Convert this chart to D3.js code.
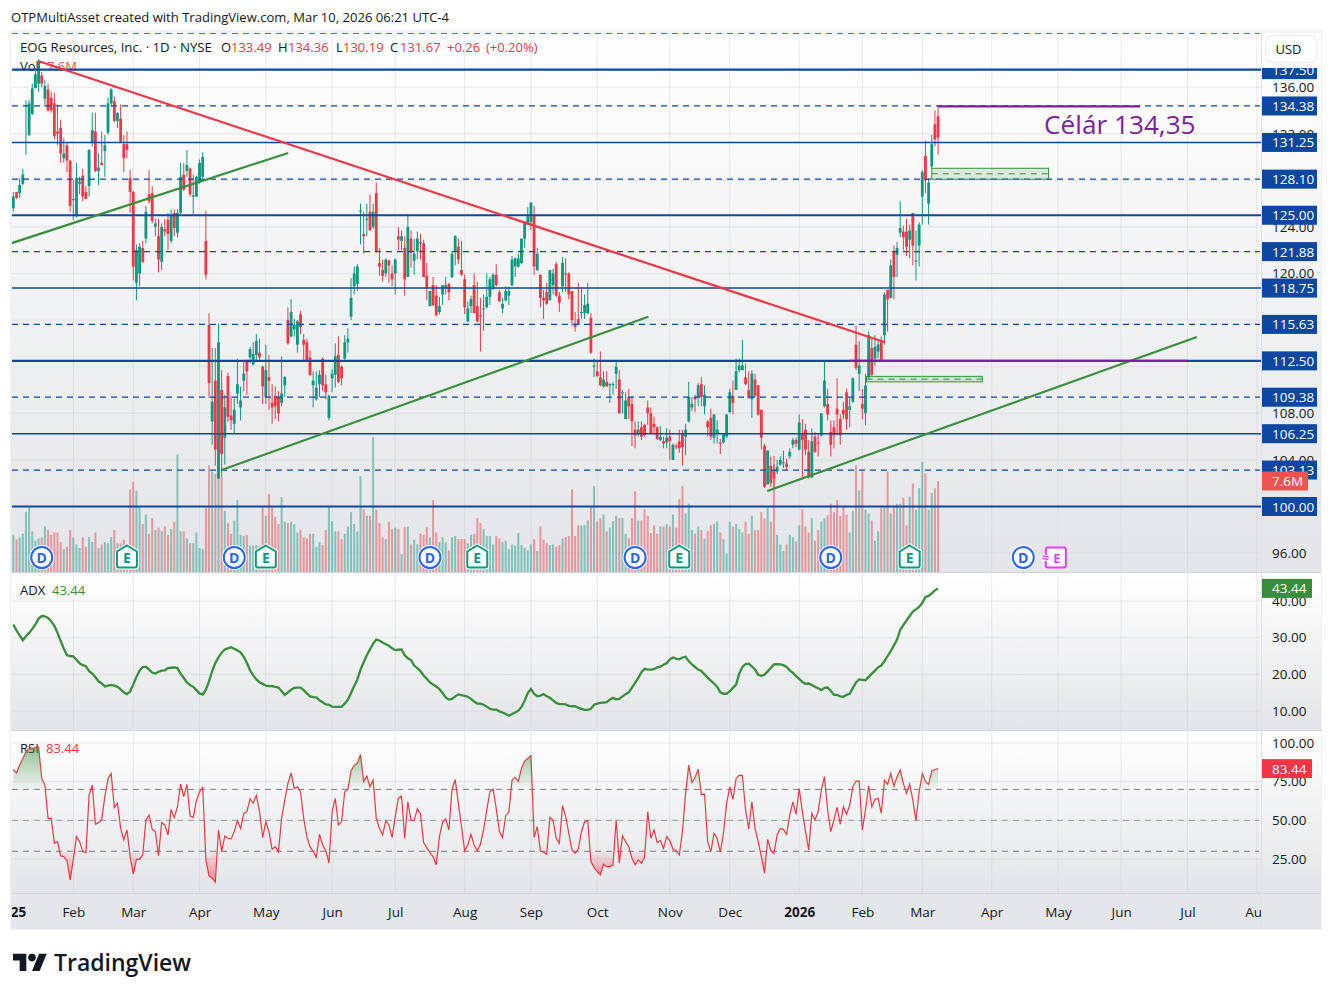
<!DOCTYPE html>
<html>
<head>
<meta charset="utf-8">
<title>EOG Resources chart</title>
<script src="https://d3js.org/d3.v7.min.js"></script>
<style>
	html, body { margin: 0; padding: 0; background: #fff; }
	svg { display: block; }
	text { font-family: "Open Sans", "Noto Sans", sans-serif; }
</style>
</head>
<body>
<script>
	// daily bars, Jan 3 2025 - Mar 9 2026 (one line per month)
	const opens = [
		125.6,127,126.9,127.7,131.2,131.9,133.7,135.9,136.3,137,135,135.8,135.1,134.6,132.2,132.5,129.9,131,129.7,
		126.3,124.9,127.7,128.4,127,127.5,131.2,132.2,128.8,129.5,130.5,132.1,134.6,134.8,133.1,133.3,131.1,131.1,128.2,
		127,119.2,120,122.2,123,126.8,126.9,124,123.2,121,123.8,124.6,122.8,125.2,123.5,125.2,128.5,128.8,129,126.6,126.6,
		127.8,128.3,122.8,115.6,107.3,110.8,102.4,110,105.9,111.2,107.8,107.1,109.7,108.5,110.8,112.5,112.8,112.2,113,113.2,112,
		109.4,111.1,108.9,109.5,109.4,108.9,110.4,116,114.6,115.2,113.9,116.5,114.3,114.1,112.8,110.4,109.2,110.5,112.7,110.5,107.6,
		111,111.3,113,112,112.7,114.1,116.3,118.9,119.1,125.3,123.4,124.6,125.3,124,126.9,120.9,120.3,120,121.1,120,
		120,123.2,122.8,122.2,119.7,123,121.1,121.9,122.7,122.6,119.8,117.2,119,118.1,116.7,118.2,118.8,119.1,119.7,121.9,122.3,120.3,
		119.5,115.9,117.2,119,117.2,116.4,117,117.1,118,118.7,119.9,118.4,117,117.7,118.1,119,120.6,120.6,120.9,123,124.2,
		124.4,125,120.3,119.9,117.9,118.4,117.7,119,120.8,118.1,118.9,120,120,118.5,115.7,116.1,116.6,116.6,116.6,116.2,112,
		111.6,111.1,110.3,110.7,110.4,110.4,111.4,110.9,109.7,107.5,109.4,108.8,106.6,106.2,106.8,107,108.5,108,107.1,106.8,105.7,105.6,105.5,
		106,104,105.2,105.6,106.2,106,107.3,108.5,109.4,109.4,110.5,108.6,107.3,107.6,105.9,106.3,105.5,105.5,106,
		108.1,109.5,110,111.7,111.7,111.1,110,109.2,110.9,110.4,108.3,105.2,101.9,103.5,103.1,103,103.6,103.8,103.7,104.3,105.3,105.7,
		104.9,106.3,106.6,104.7,102.5,106,105.5,106.1,108.6,108.8,106.4,106.8,108.4,107.5,108.3,109.8,108.3,109,113.9,111.4,
		108.8,108,111.1,113.6,112.7,113.3,114.1,114.7,118.6,117.9,121.9,121.6,123.5,123.6,123.6,122.9,125.2,121.1,122.4,
		126.6,130.1,126,129.2,132.8,133.49
	];
	const highs = [
		127,127,128.2,129,134.9,134.9,136.3,137.4,138.4,137.3,136.6,136.3,135.6,135.5,134.5,133.2,131.6,131.3,129.7,
		128,129.5,128.3,129,127.5,130.7,133.8,133.8,130.3,132.2,131.9,135.1,135.9,135.2,133.8,134.5,131.9,132.2,128.9,
		127.1,122.5,122.6,122.8,125.8,128.9,127.5,124.7,124.7,124.3,124.7,125.2,125.5,125.5,125.5,129.5,129.5,130.6,129.1,128.5,128.4,
		129.8,130.4,125.4,116.6,113.6,113.6,115.7,111.7,109.6,111.5,109.5,109.3,112.7,110.3,112.6,112.6,113.7,114.1,114.8,114.4,112.1,
		113.9,113,110.5,110.3,109.9,112.9,111.2,117.1,117.8,116.1,116,116.8,114.8,114.4,113.4,111.6,111.6,111.7,112.8,111.3,109.6,
		111.8,114,114.6,112.1,114.7,115.3,119.6,120.6,120.8,126,125.3,126,126.8,126,127.8,122.2,121.2,121.3,121.2,120.7,
		121.3,124,123.7,123.2,125.1,123.7,123,123.6,123.4,122.9,120.9,118.5,119.7,119,118,119,119.7,119.2,121.9,123.3,123,122.8,
		119.9,117.6,118.1,120,119.3,117.9,118.2,120,119.7,120,120.8,118.6,117.9,118.9,118.9,121.5,121.4,121.7,123,124.5,125.7,
		126.1,125.8,122.2,119.9,118.6,119.2,120.3,120.4,121,118.4,121.4,121.3,120.1,118.5,116.7,119.2,118.7,118.2,119.2,116.6,112.7,
		112.4,113.3,111.6,111.6,110.6,110.7,112.4,111.7,110,109.8,110.1,109.5,107.3,107.3,107.3,107.1,109.1,108.5,107.7,106.9,106.9,106,106.7,
		106.6,105.4,105.4,106.6,106.6,107.1,110.7,109.4,109.6,110.6,111.1,110.4,107.4,108.4,107.9,107.4,105.8,106.3,107.9,
		110.1,110.8,112.7,112.7,114.3,112.3,111.6,111.7,111.4,110.4,108.3,105.4,104.8,104.3,103.6,104,104.3,104.8,104.1,105,105.9,105.9,
		107.9,107.5,107.1,105.7,106.7,106.4,106.3,108,112.5,110.1,107.4,107.4,111,107.9,109,110.1,109.3,111.1,115.5,114.2,
		110.1,111.4,115,114.4,114.7,114.2,114.6,118.4,118.6,121.2,122.4,122.7,126.2,124.1,124.7,124.2,125.2,123.7,124.4,
		128.9,131.4,128.2,131.9,134,134.36
	];
	const lows = [
		125.3,126.4,126.5,127.6,130.2,131.8,133.6,135.9,135.6,136,134.3,133.9,133.8,131.5,131,129.5,129.5,128.7,125.3,
		124.6,124.8,126.8,126.2,126.4,126.6,130.9,128.7,127.6,129.3,128.3,131.9,134.3,133,132.5,131.2,128.7,129.9,125.2,
		119.4,117.7,118.9,120.9,122.6,126,124.3,123.2,120.1,120.3,123.2,122,122.6,123.2,123.1,125.1,127.1,128.3,126.6,125.1,126.6,
		127.7,128.2,119.5,109.3,105.3,103.5,102.4,102.5,103.6,107.3,106.6,106.3,108.8,107.4,109.9,109.6,112.3,112.1,112.5,112.4,108.8,
		108.8,108.3,107.1,107.5,107.3,108.6,109.4,113.9,114.5,114.6,113.2,114.8,112.5,112.4,111.2,108.5,109.1,109.4,109.9,109.2,107.4,
		109.8,110.2,110.6,110.4,112.6,113.2,116,118.2,118.5,122.5,121.7,123.2,123.7,123.8,121.8,119.8,119.3,119.7,119.2,118.9,
		118.2,122,122,118.1,119.7,120.5,119.9,121.2,121.2,119.7,117.7,117.2,117.2,116.4,116.5,117.3,118.2,117.7,119.6,120.7,120.8,119.8,
		116.5,115.8,116.6,116.6,115.8,113.3,115.1,117,117.3,118.6,118.9,117.6,116.6,117.6,117.3,118.9,119.7,120.5,120.8,122.2,124.2,
		123.7,119.9,120.2,117.1,116.1,117.3,117.7,118.2,118,116.7,118.4,118.4,117.8,115.5,115,115.6,116.1,116.1,116.5,113.1,111.1,
		111.1,110.3,110.2,110.3,108.9,109.6,110.1,108,108,107.5,107.5,105.2,105,106,105.7,106,107,106.3,106.2,105.7,105.6,105,105,
		104,104,104.9,104.6,103.5,104.4,107.2,108.2,108.1,108.6,108.6,107.9,106,105.7,105.4,105.4,104.5,105.4,105.9,
		108,107.9,110,111.5,111.7,110.4,109.3,107.6,109.4,107.8,104.9,101.6,101.9,101.7,101.6,102.8,103.5,103.3,103.1,104.1,105,105.1,
		104.8,102.3,104.4,102.4,102.4,104.6,104.3,106,108.5,107.4,104.3,105,106.1,105.3,107.5,106.6,106.8,108.9,111.7,109.9,
		107.5,107,110.9,111.2,112.1,112.7,112.6,113.9,115,117.9,117.8,119.7,123.1,122,121.5,121.3,120.7,119.4,120.6,
		124.2,126.9,124.2,129,130.9,130.19
	];
	const closes = [
		126.6,126.5,127.6,128.5,131.3,134.6,135.9,137.1,138.2,136.3,136.1,134,134,131.8,132,130.3,130.3,129.7,125.8,
		126.4,128.2,127.9,126.6,126.4,130.6,132.3,128.8,129.1,129.3,131,134.6,135.8,133.1,133.8,131.3,129.9,130.6,127,
		120.6,122,122.3,121,125.3,126.2,124.5,124.3,121.2,124,123.6,123.4,125,123.9,125.2,128.3,127.2,129.3,126.8,126.7,128.3,
		129.5,130,119.9,110.6,109,104.9,114.1,104.5,108.5,107.7,107.4,108.3,110.5,109.1,111.4,111.6,113.5,113.1,114.2,112.8,110.3,
		111.7,110.8,108.5,108.6,108,109.7,111.1,114,116.7,115.6,115.9,115.4,113.9,112.5,111.3,110.8,110.2,111.3,110.4,109.8,109.5,
		111.4,112.9,110.7,111,114.1,114.4,117.9,120,120.6,125.4,123.2,124.7,123.7,125.3,121.9,120.6,119.8,121.2,120.7,119.5,
		121.2,122.9,123.2,119.5,124,121.8,121.7,123,122.6,119.7,118.8,118.5,117.3,116.4,117.2,119,119,118.4,121.7,123.2,121.2,119.9,
		117.1,117,117.8,116.6,115.9,116.3,117,118,119.5,119.9,119,117.6,117.4,118.5,118.5,121.2,121.3,121.3,123,124.4,124.9,
		126.1,120.6,121.7,117.9,117.7,117.4,120.3,120,118.1,117.5,120.9,119.9,118.2,116,115.4,115.6,116.7,117.3,117.4,113.2,112.1,
		111.2,110.4,110.9,110.3,110.5,110.5,112,108,109.8,109.1,108.6,107.3,106.1,106.6,106,106.1,108,106.3,106.8,105.8,106,105.4,105.9,
		105.6,105.3,105.1,105,105.1,106.6,109.4,108.8,109.2,110.4,109.4,109.6,106.8,106,107.9,106.6,105.4,106.2,107.9,
		109.8,108.9,111.6,112.1,112.1,110.5,109.3,111.4,109.5,107.9,105.9,101.7,104.8,102,102.4,103.4,104,103.8,103.4,104.7,105.7,105.4,
		107.2,105.7,104.9,102.5,105.6,104.7,105.4,108,110.8,107.9,105.3,106.1,107.9,106.1,107.9,107.5,108.6,111,111.9,112.1,
		108.4,110.4,114.7,111.3,113.7,113.9,112.6,118.2,117.8,120.7,119.7,122.2,123.9,123.1,122.3,123.7,122.4,121.1,124.2,
		128.7,128,127.8,131.1,131.5,131.67
	];
	// volume in millions
	const volumes = [
		3.1,2.75,2.9,3.2,5,5.4,3.4,2.6,2.8,2.9,3.8,3.5,3.1,3.3,3.3,2.5,1.9,2.1,3.5,
		2.9,2.3,2,2.9,2.1,2.9,2.5,3.3,2,2.3,2.5,2.4,2.9,3.5,2.4,2.4,2.7,2.25,6.9,
		7.5,6.8,5.4,4,4.8,3.2,4.5,3.5,3.7,3.4,3.8,3.1,3.6,4.2,9.8,3.4,3.4,2.8,2.4,2.4,3.3,
		2,1.9,5.4,8.9,8.4,8.2,8.8,7.9,5.1,4.1,3.2,4.3,6,3.1,3,3.1,2.2,2.2,2.25,2.2,5.4,
		4.7,6.5,5.4,4.6,4,6.25,4.2,4.1,4.2,4,3.3,3.5,2.9,2.8,3.2,3.2,2.1,2.5,2.25,3.5,5.4,
		4.25,3.4,3.4,2.75,3.2,3.8,5,4,3.4,8,5.25,4.7,4.7,11.25,5.2,4.1,2.9,2.75,4.2,3.6,
		3.7,3.6,1.5,3.75,3.8,2.3,2.7,2.3,3.2,3.1,3.75,2.9,6,3.3,2.5,2.9,2.5,1.8,2.9,3,2.75,2.75,
		2.75,2.4,3.1,3.2,4.5,4.1,3.6,3,3,2.3,3,2.8,2.5,2.6,1.9,2.3,2.2,3.25,2.25,2,1.8,
		2.3,2.75,1.75,3.8,2.7,2.4,2.25,2.3,2.1,2.25,2.8,2.9,3,6.9,3,3.9,3.9,3.9,4.3,5.4,7.2,
		4.2,4.5,4.8,3.4,3.7,4.25,4.7,4.5,4.5,3.2,2.8,4.5,6.75,4.3,4.3,5.25,4.7,3.25,3.9,3.2,3.8,3.8,4,
		3.8,4.8,3.7,6.1,7.2,4.9,5.7,3.5,3.2,3.8,3.5,2.8,3.4,3.9,4,4.2,3.3,2.75,1.55,
		4.2,3.8,4,3.6,3.3,4.2,3.2,4.7,3.5,3.5,5,4.5,5.4,4.2,9.7,3.1,2.3,1.75,2.3,3.1,2.9,2.55,
		3.9,5.25,3.8,3.3,4.5,2.6,3.5,4.2,4.5,4.75,5.7,5,6,4.7,5.5,4.8,3.3,5.1,8.9,6.8,
		8.4,5.2,4.9,4.3,2.6,3.4,5.4,5.4,8.4,4.9,5.4,5.7,5.7,6.2,3.9,6.3,7.4,5.2,7,
		9.2,8.25,5.2,6.6,7,7.6
	];
	const adxValues = [
		33.6,32,30.6,29.3,30.4,31.3,32.4,33.6,35.2,35.9,35.8,35.4,34.5,33.2,31.3,29.1,27,25.2,25,
		24.9,24,23,22.5,22.2,20.9,20.2,19.2,18.1,17.5,16.7,16.9,17.1,16.9,16.6,15.9,15.1,14.6,15.3,
		17.2,19.3,21,22,22.1,21.3,20.5,20.2,20.7,21,21.1,21.7,21.8,21.9,21.7,20.2,19,17.8,17.1,16.6,15.7,
		14.8,14.5,15.8,18.1,20.9,23.1,24.6,25.9,26.8,27.1,27.4,27,26.5,26,24.8,23.1,21.1,19.7,18.6,17.8,17.4,
		16.9,16.8,16.8,16.6,16.4,15.4,14.4,15.1,15.8,16.3,16.4,16.4,15.7,14.8,14,13.8,13.7,12.9,12.4,11.8,11.7,
		11.2,11.1,11.1,11.1,12,13.1,14.9,16.8,18.6,21.3,23.3,25.2,26.8,28.4,29.5,29.2,28.7,28.2,27.8,27.1,
		26.6,26.7,26.8,25.2,24.4,23.9,22.4,21.7,20.9,19.7,18.8,17.8,17.2,16.7,16,14.9,13.7,13.1,13.3,14,14.5,14.3,
		14.1,13.9,13.3,12.6,12,12,11.7,11.2,10.6,10.4,10.4,9.9,9.6,9.2,8.7,9.2,9.6,10.1,11.1,12.8,14.9,
		16,14.7,14,14.2,14.6,14,13.6,12.9,12.2,11.9,11.9,11.8,11.4,11.3,11.3,10.9,10.6,10.3,10.3,10.6,11.7,
		12,12.2,12.3,12.4,13.1,13.6,13.2,13.3,14,14.6,15.1,16.4,17.7,19,20.6,21.5,21.3,21.3,21.4,21.9,22.1,22.6,23,
		24.1,24.6,24.3,24.1,24.6,24.8,23.6,22.7,22,21.3,20.9,20,19.1,18.3,17.5,16.6,15.1,14.7,14.7,
		15.4,16.3,17.2,20.2,22,22.8,22.9,22.2,21.3,19.9,19.6,19.9,20.8,21.7,22.7,22.8,22.7,22.5,22,21.1,20.4,19.5,
		18.8,17.9,17.4,17.5,17.1,16.6,16.2,15.7,16.3,16.4,15.5,14.4,14.4,14,13.9,14.4,14.7,16.3,17.8,18.6,
		18.5,18.4,19.3,20.2,21,21.9,22.4,23.6,25,26.3,27.9,29.5,32.1,33.4,34.7,35.9,37.1,37.7,38.4,
		39.5,41.1,41.4,42.1,42.9,43.44
	];
	const rsiValues = [
		82.9,80.7,85.7,90,94.3,96.4,96.4,97.1,97.5,77.1,72.8,51.3,51.3,35.2,36.2,27,26.5,24,11.5,
		24.4,39.5,36.2,29.8,29.1,66.3,72.8,47.6,48.5,50.6,65.3,77.1,80.3,58.4,61,44.8,37.3,43.8,26.5,
		15.2,24.8,24.8,27.6,50.2,53.4,44.2,42.7,27.2,48.5,47,40.5,57.1,51.9,58.8,73.4,65.3,73.2,52.8,51.9,62.7,
		68.5,71.3,24.4,14.1,12.6,10,43.8,29.8,39.9,38.4,38,42.7,49.8,44.8,54.5,55.6,64,61,66.1,55.6,39,
		49.1,42.7,31.3,33,29.6,51.3,63.1,73.9,80.7,70.6,71.7,68.5,51.3,39.5,33,29.8,26.1,41,34.1,30.4,22.3,
		55.6,64.2,47,49.1,68.5,70,82,85.7,86.8,92.6,75,78.6,71.7,76,51.3,44.8,40.5,49.8,47,39,
		52.4,64.2,65.7,38.4,62,50.2,49.8,57.5,54.1,35.6,32.4,29.1,26.5,21.2,39.5,48.7,50.9,43.8,70,76.4,61,45.9,
		30.2,34.1,41,34.1,30.2,34.7,43.8,56.7,68.5,70.2,57.7,42.7,39,53,55.2,76,77.7,75.2,83.5,88.3,90,
		91.9,39,45.9,30.2,29.4,28.1,51.9,50.2,38.4,35.2,59.5,52.4,41.6,30.9,28.7,31.3,42.7,49.1,49.8,23.3,19.5,
		16.9,14.7,21.6,20.1,20.1,21.2,50.2,22.3,40.1,36.2,33,25.5,21.2,24.4,22.3,25.9,55.6,38.4,43.8,35.6,36.9,31.9,39.5,
		36.9,31.3,30.4,27.6,42.7,67.4,85.7,74.5,77.7,83.1,66.8,67,36.2,29.8,41.6,38.4,29.4,41.6,61,
		71.7,63.5,77.1,79.2,79,56.7,44.4,62,44.8,36.2,26.5,15.8,37.7,30.4,28.7,40.5,44.8,44.2,41,53.4,62,53.9,
		70.6,55.6,42.7,30.9,54.5,50.2,55.6,69.6,78.2,56.7,42.7,50.2,58.4,47.6,58.8,53.9,59.9,71.7,75.4,75.4,
		43.8,56.7,72.4,58.8,63.5,64.2,54.5,76,73.4,80.3,72.1,78.2,82.5,73.9,67.4,73.4,63.1,49.8,68.5,
		80.3,75,73.2,82,82.9,83.44
	];

	// time axis
	const monthBars = [-1,19,38,59,80,101,121,143,164,185,208,227,249,269,288,310,331,351,372,394];
	const monthLabels = ['2025','Feb','Mar','Apr','May','Jun','Jul','Aug','Sep','Oct','Nov','Dec','2026','Feb','Mar','Apr','May','Jun','Jul','Aug'];

	// price axis and drawn levels
	const priceGrid = [136,132,128,124,120,116,112,108,104,100,96];
	const priceTicks = [136,132,124,120,108,104,96]; // the rest sit fully under level labels
	const thickLevels = [137.5,125,112.5,100];
	const thinLevels = [131.25,118.75,106.25];
	const dashedLevels = [140.63,134.38,128.1,121.88,115.63,109.38,103.13];
	const adxTicks = [40,30,20,10];
	const rsiTicks = [100,75,50,25];
	const rsiBands = [70,50,30];

	// dividend and earnings markers
	const dividendBars = [9,70,132,197,259,320];
	const earningsBars = [36,80,147,211,284];
	const nextEarningsBar = 330;

	// trend lines: [bar, price, bar, price]
	const redLines = [[7.9,138.24,276.2,114.1]];
	const greenLines = [[-0.6,122.6,87.1,130.35],[66,103.13,201.2,116.29],[238.9,101.33,375,114.55]];
	const purpleLines = [[293,134.35,357,134.35],[264.8,112.5,372,112.5]];
	const greenBoxes = [[291,129.03,328,128.09],[270.3,111.17,307,110.7]];

	const width = 1332, height = 997;
	const paneLeft = 12, paneRight = 1261, frameRight = 1321;
	const priceTop = 33, priceBottom = 572, adxTop = 573, adxBottom = 730, rsiTop = 731, rsiBottom = 893, frameBottom = 929;

	const upColor = '#089981', downColor = '#f23645', levelColor = '#0d47a1', textColor = '#131722';

	const x = d3.scaleLinear().domain([19, 288]).range([73.3, 922.3]);
	const y = d3.scaleLinear().domain([100, 136]).range([506.5, 87.1]);
	const yVol = d3.scaleLinear().domain([0, 7.6]).range([priceBottom, 481]);
	const yAdx = d3.scaleLinear().domain([10, 40]).range([711, 601]);
	const yRsi = d3.scaleLinear().domain([25, 100]).range([859, 743]);

	const bars = d3.range(opens.length);

	const svg = d3.select('body').append('svg').attr('width', width).attr('height', height);
	const defs = svg.append('defs');

	function paneGradient(id) {
		const g = defs.append('linearGradient').attr('id', id).attr('x1', 0).attr('x2', 0).attr('y1', 0).attr('y2', 1);
		g.append('stop').attr('offset', 0).attr('stop-color', '#ffffff');
		g.append('stop').attr('offset', 1).attr('stop-color', '#e4e5e8');
	}
	paneGradient('paneBg');

	function clip(id, x0, y0, x1, y1) {
		defs.append('clipPath').attr('id', id).append('rect').attr('x', x0).attr('y', y0).attr('width', x1 - x0).attr('height', y1 - y0);
	}
	clip('clipPrice', paneLeft, priceTop, paneRight, priceBottom);
	clip('clipAdx', paneLeft, adxTop, paneRight, adxBottom);
	clip('clipRsi', paneLeft, rsiTop, paneRight, rsiBottom);
	clip('clipTime', paneLeft, rsiBottom, paneRight, frameBottom);
	clip('clipOver', paneLeft, rsiTop, paneRight, yRsi(70));
	clip('clipUnder', paneLeft, yRsi(30), paneRight, rsiBottom);

	// frame and pane backgrounds
	svg.append('rect').attr('x', 10).attr('y', 30).attr('width', frameRight - 9).attr('height', frameBottom - 29).attr('fill', '#f0f1f4');
	[[priceTop, priceBottom], [adxTop, adxBottom], [rsiTop, rsiBottom]].forEach(p => {
		svg.append('rect').attr('x', 11).attr('y', p[0]).attr('width', frameRight - 11).attr('height', p[1] - p[0]).attr('fill', 'url(#paneBg)');
	});
	svg.append('rect').attr('x', 11).attr('y', rsiBottom).attr('width', frameRight - 11).attr('height', frameBottom - rsiBottom).attr('fill', '#e5e6e9');

	// grid
	function grid(id, scale, ticks, top, bottom) {
		const g = svg.append('g').attr('clip-path', 'url(#' + id + ')').attr('stroke', '#c8ccd6').attr('stroke-opacity', 0.42);
		g.selectAll('line.v').data(monthBars).enter().append('line').attr('class', 'v')
			.attr('x1', d => x(d)).attr('x2', d => x(d)).attr('y1', top).attr('y2', bottom);
		g.selectAll('line.h').data(ticks).enter().append('line').attr('class', 'h')
			.attr('x1', paneLeft).attr('x2', paneRight).attr('y1', d => scale(d)).attr('y2', d => scale(d));
	}
	grid('clipPrice', y, priceGrid, priceTop, priceBottom);
	grid('clipAdx', yAdx, adxTicks, adxTop, adxBottom);
	grid('clipRsi', yRsi, rsiTicks, rsiTop, rsiBottom);

	// separators
	[priceBottom, adxBottom, rsiBottom].forEach(v => {
		svg.append('line').attr('x1', 11).attr('x2', frameRight).attr('y1', v + 0.5).attr('y2', v + 0.5).attr('stroke', '#d1d4dc');
	});
	svg.append('line').attr('x1', paneRight + 0.5).attr('x2', paneRight + 0.5).attr('y1', priceTop).attr('y2', frameBottom).attr('stroke', '#dfe1e6');

	// volume
	const volG = svg.append('g').attr('clip-path', 'url(#clipPrice)');
	volG.selectAll('rect').data(bars).enter().append('rect')
		.attr('x', i => x(i) - 1).attr('width', 2)
		.attr('y', i => yVol(volumes[i])).attr('height', i => priceBottom - yVol(volumes[i]))
		.attr('fill', i => closes[i] >= opens[i] ? upColor : downColor)
		.attr('fill-opacity', 0.47);

	// legend
	function legend(parent, px, py, txt, color, size) {
		parent.append('text').attr('x', px).attr('y', py).attr('font-size', size || 13).attr('fill', color).text(txt);
	}
	const titleY = 52;
	legend(svg, 11, 22, 'OTPMultiAsset created with TradingView.com, Mar 10, 2026 06:21 UTC-4', textColor, 13.05);
	legend(svg, 20, titleY, 'EOG Resources, Inc. · 1D · NYSE', textColor, 13.2);
	[['O', 221], ['H', 278], ['L', 336], ['C', 390]].forEach(d => legend(svg, d[1], titleY, d[0], textColor));
	[['133.49', 231], ['134.36', 288], ['130.19', 343], ['131.67', 400], ['+0.26', 447], ['(+0.20%)', 486]].forEach(d => legend(svg, d[1], titleY, d[0], downColor));
	legend(svg, 20, 71, 'Vol', textColor);
	legend(svg, 47, 71, '7.6M', '#ef5350');
	legend(svg, 20, 595, 'ADX', textColor);
	legend(svg, 52, 595, '43.44', '#388e3c');
	legend(svg, 20, 753, 'RSI', textColor);
	legend(svg, 46, 753, '83.44', downColor);

	// candles
	const candleG = svg.append('g').attr('clip-path', 'url(#clipPrice)');
	candleG.selectAll('line').data(bars).enter().append('line')
		.attr('x1', i => x(i)).attr('x2', i => x(i))
		.attr('y1', i => y(highs[i])).attr('y2', i => y(lows[i]))
		.attr('stroke', i => closes[i] >= opens[i] ? upColor : downColor);
	candleG.selectAll('rect').data(bars).enter().append('rect')
		.attr('x', i => x(i) - 1.4).attr('width', 2.8)
		.attr('y', i => y(Math.max(opens[i], closes[i])))
		.attr('height', i => Math.max(1, Math.abs(y(opens[i]) - y(closes[i]))))
		.attr('fill', i => closes[i] >= opens[i] ? upColor : downColor);

	// levels
	const lineG = svg.append('g').attr('clip-path', 'url(#clipPrice)');
	function levels(data, w, dash, end) {
		lineG.selectAll(null).data(data).enter().append('line')
			.attr('x1', paneLeft).attr('x2', end).attr('y1', d => y(d)).attr('y2', d => y(d))
			.attr('stroke', levelColor).attr('stroke-width', w).attr('stroke-dasharray', dash);
	}
	levels(thickLevels, 2.2, null, paneRight);
	levels(thinLevels, 1.5, null, paneRight);
	levels(dashedLevels, 1.3, '6,5', paneRight - 1);

	// drawn boxes
	greenBoxes.forEach(b => {
		lineG.append('rect').attr('x', x(b[0])).attr('y', y(b[1])).attr('width', x(b[2]) - x(b[0])).attr('height', y(b[3]) - y(b[1]))
			.attr('fill', '#388e3c').attr('fill-opacity', 0.15).attr('stroke', '#388e3c').attr('stroke-width', 1);
		lineG.append('line').attr('x1', x(b[0])).attr('x2', x(b[2])).attr('y1', y((b[1] + b[3]) / 2)).attr('y2', y((b[1] + b[3]) / 2))
			.attr('stroke', '#388e3c').attr('stroke-width', 1).attr('stroke-dasharray', '6,5');
	});

	// trend lines
	function trend(data, color, w) {
		lineG.selectAll(null).data(data).enter().append('line')
			.attr('x1', d => x(d[0])).attr('y1', d => y(d[1])).attr('x2', d => x(d[2])).attr('y2', d => y(d[3]))
			.attr('stroke', color).attr('stroke-width', w);
	}
	trend(redLines, '#f23645', 2.2);
	trend(greenLines, '#388e3c', 2.2);
	trend(purpleLines, '#7b1fa2', 2.2);

	svg.append('text').attr('x', x(293) + 106).attr('y', y(134.35) + 28).attr('font-size', 26.2).attr('fill', '#7b1fa2').text('Célár 134,35');

	// dividend / earnings markers
	const markY = 557.5;
	const markG = svg.append('g').attr('clip-path', 'url(#clipPrice)').attr('text-anchor', 'middle');
	dividendBars.forEach(b => {
		const g = markG.append('g').attr('transform', 'translate(' + x(b) + ',' + markY + ')');
		g.append('circle').attr('r', 12.5).attr('fill', '#fff');
		g.append('circle').attr('r', 10.5).attr('fill', '#fff').attr('stroke', '#2962ff').attr('stroke-width', 2);
		g.append('text').attr('y', 5).attr('font-size', 14).attr('font-weight', 700).attr('fill', '#2962ff').text('D');
	});
	const housePath = 'M0,-11 L10,-5 L10,9 Q10,11 8,11 L-8,11 Q-10,11 -10,9 L-10,-5 Z';
	earningsBars.forEach(b => {
		const g = markG.append('g').attr('transform', 'translate(' + x(b) + ',' + (markY - 1) + ')');
		g.append('path').attr('d', housePath).attr('fill', '#fff').attr('stroke', '#fff').attr('stroke-width', 4);
		g.append('path').attr('d', housePath).attr('fill', '#fff').attr('stroke', upColor).attr('stroke-width', 2);
		g.append('text').attr('y', 6).attr('font-size', 14).attr('font-weight', 700).attr('fill', upColor).text('E');
	});
	const nextG = markG.append('g').attr('transform', 'translate(' + (x(nextEarningsBar) + 1) + ',' + markY + ')');
	nextG.append('rect').attr('x', -10).attr('y', -10).attr('width', 20).attr('height', 20).attr('rx', 2)
		.attr('fill', '#fff').attr('stroke', '#e040fb').attr('stroke-width', 2);
	nextG.append('text').attr('x', -10).attr('y', 4).attr('font-size', 12).attr('font-weight', 700).attr('fill', '#e040fb')
		.attr('stroke', '#fff').attr('stroke-width', 2).attr('paint-order', 'stroke').text('≈');
	nextG.append('text').attr('x', 1).attr('y', 5).attr('font-size', 13).attr('font-weight', 700).attr('fill', '#e040fb').text('E');

	// ADX
	const adxLine = d3.line().x(i => x(i)).y(i => yAdx(adxValues[i]));
	svg.append('path').datum(bars).attr('clip-path', 'url(#clipAdx)').attr('d', adxLine)
		.attr('fill', 'none').attr('stroke', '#388e3c').attr('stroke-width', 2.3);

	// RSI bands, zones and line
	function rsiGradient(id, level, edge, color, top, bottom) {
		const g = defs.append('linearGradient').attr('id', id).attr('gradientUnits', 'userSpaceOnUse')
			.attr('x1', 0).attr('x2', 0).attr('y1', yRsi(level)).attr('y2', yRsi(edge));
		g.append('stop').attr('offset', 0).attr('stop-color', color).attr('stop-opacity', top);
		g.append('stop').attr('offset', 1).attr('stop-color', color).attr('stop-opacity', bottom);
	}
	rsiGradient('rsiOver', 70, 100, '#388e3c', 0.02, 0.6);
	rsiGradient('rsiUnder', 30, 5, '#f23645', 0.02, 0.7);

	const rsiG = svg.append('g').attr('clip-path', 'url(#clipRsi)');
	rsiG.selectAll('line').data(rsiBands).enter().append('line')
		.attr('x1', paneLeft).attr('x2', paneRight - 2).attr('y1', d => yRsi(d)).attr('y2', d => yRsi(d))
		.attr('stroke', '#787b86').attr('stroke-opacity', d => d === 50 ? 0.7 : 1).attr('stroke-dasharray', '6,5');
	svg.append('path').datum(bars).attr('clip-path', 'url(#clipOver)')
		.attr('d', d3.area().x(i => x(i)).y0(yRsi(70)).y1(i => yRsi(rsiValues[i]))).attr('fill', 'url(#rsiOver)');
	svg.append('path').datum(bars).attr('clip-path', 'url(#clipUnder)')
		.attr('d', d3.area().x(i => x(i)).y0(yRsi(30)).y1(i => yRsi(rsiValues[i]))).attr('fill', 'url(#rsiUnder)');
	rsiG.append('path').datum(bars).attr('d', d3.line().x(i => x(i)).y(i => yRsi(rsiValues[i])))
		.attr('fill', 'none').attr('stroke', '#f23645').attr('stroke-width', 1.2);

	// right axes
	function rightAxis(scale, ticks) {
		const g = svg.append('g').attr('transform', 'translate(' + (paneRight + 1) + ',0)')
			.call(d3.axisRight(scale).tickValues(ticks).tickFormat(d3.format('.2f')).tickSize(0).tickPadding(10));
		g.select('.domain').remove();
		g.selectAll('text').attr('font-size', 13.5).attr('fill', textColor).attr('font-family', '"Open Sans", sans-serif');
	}
	rightAxis(y, priceTicks);
	rightAxis(yAdx, adxTicks);
	rightAxis(yRsi, rsiTicks);

	// price labels
	function priceLabel(cy, txt, color, w) {
		svg.append('rect').attr('x', paneRight + 1).attr('y', cy - 9.5).attr('width', w).attr('height', 19).attr('fill', color);
		svg.append('text').attr('x', paneRight + 11).attr('y', cy + 5).attr('font-size', 13.5).attr('font-weight', 500).attr('fill', '#fff').text(txt);
	}
	thickLevels.concat(thinLevels, dashedLevels.slice(1)).sort(d3.descending).forEach(d => {
		priceLabel(y(d), d3.format('.2f')(d), levelColor, 55);
	});
	priceLabel(yVol(7.6), '7.6M', '#ef5350', 46);
	priceLabel(yAdx(adxValues[adxValues.length - 1]), '43.44', '#388e3c', 50);
	priceLabel(yRsi(rsiValues[rsiValues.length - 1]), '83.44', '#f23645', 50);

	// currency button
	svg.append('rect').attr('x', paneRight + 1).attr('y', priceTop).attr('width', frameRight - paneRight - 1).attr('height', 35).attr('fill', '#fff');
	svg.append('rect').attr('x', 1265.5).attr('y', 35.5).attr('width', 51).attr('height', 27).attr('rx', 6).attr('fill', '#fff').attr('stroke', '#eef0f4').attr('stroke-width', 1.5);
	svg.append('text').attr('x', 1288.5).attr('y', 54).attr('text-anchor', 'middle').attr('font-size', 13).attr('fill', textColor).text('USD');

	// time axis
	const timeG = svg.append('g').attr('clip-path', 'url(#clipTime)');
	const timeAxis = timeG.append('g').attr('transform', 'translate(0,' + rsiBottom + ')')
		.call(d3.axisBottom(x).tickValues(monthBars).tickFormat((d, i) => monthLabels[i]).tickSize(0).tickPadding(14));
	timeAxis.select('.domain').remove();
	timeAxis.selectAll('text').attr('font-size', 13.5).attr('fill', textColor)
		.attr('font-family', '"Open Sans", sans-serif')
		.attr('font-weight', (d, i) => /^20/.test(monthLabels[i]) ? 700 : 400);

	// logo
	const logo = svg.append('g').attr('transform', 'translate(13,950) scale(0.95)').attr('fill', textColor);
	logo.append('path').attr('d', 'M14 22H7V11H0V4h14v18zM28 22h-8l7.5-18h8L28 22z');
	logo.append('circle').attr('cx', 20).attr('cy', 8).attr('r', 4);
	svg.append('text').attr('x', 54).attr('y', 971).attr('font-size', 23).attr('font-weight', 600)
		.attr('font-family', 'Inter, sans-serif').attr('fill', textColor).text('TradingView');
</script>
</body>
</html>
